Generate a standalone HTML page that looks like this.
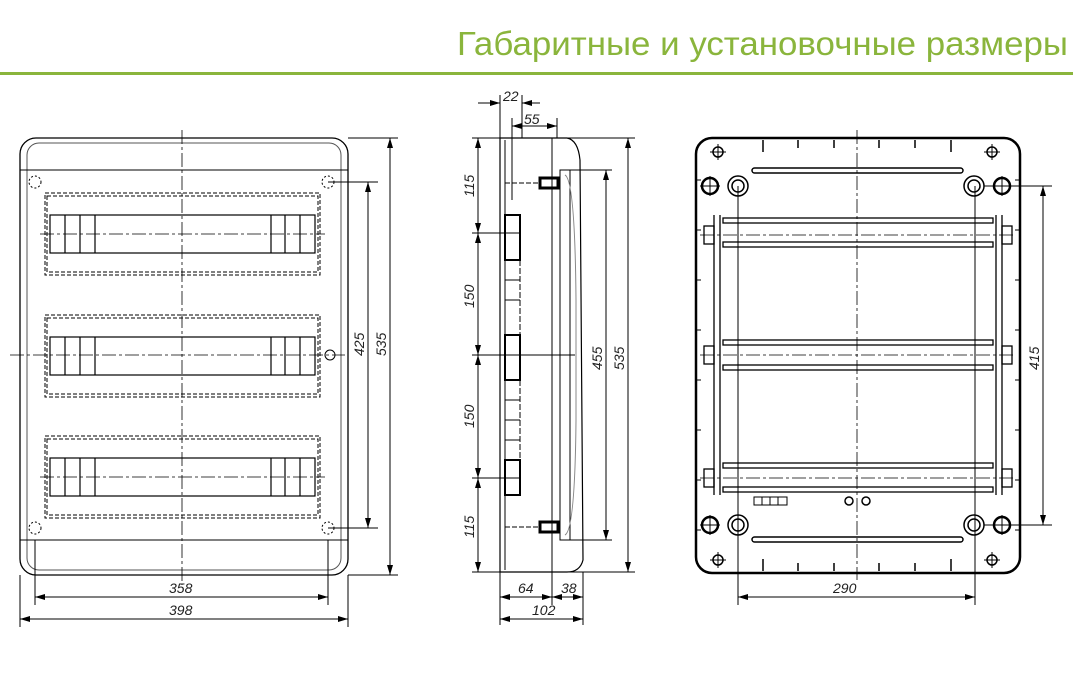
<!DOCTYPE html>
<html><head><meta charset="utf-8"><style>
html,body{margin:0;padding:0;background:#fff;width:1073px;height:674px;overflow:hidden}
svg{display:block}
text{font-family:"Liberation Sans",sans-serif;font-style:italic;font-size:14px;fill:#222}
</style></head><body>
<svg width="1073" height="674" viewBox="0 0 1073 674" xmlns="http://www.w3.org/2000/svg">
<defs>
<marker id="a" viewBox="0 0 10 6" refX="10" refY="3" markerWidth="10" markerHeight="6" orient="auto-start-reverse" markerUnits="userSpaceOnUse"><path d="M0,0 L10,3 L0,6 Z" fill="#000"/></marker>
</defs>
<text x="457" y="55" textLength="611" lengthAdjust="spacingAndGlyphs" style="font-style:normal;font-size:33px;fill:#8ab53c">Габаритные и установочные размеры</text>
<rect x="0" y="72" width="1073" height="3" fill="#8ab53c"/>

<g fill="none" stroke="#000" stroke-width="1">
<!-- FRONT -->
<rect x="20" y="138" width="328" height="437" rx="16" stroke-width="1.3"/>
<rect x="27" y="143" width="314" height="427" rx="12" stroke="#555"/>
<line x1="20" y1="170" x2="348" y2="170"/>
<line x1="20" y1="540" x2="348" y2="540"/>
<g stroke-dasharray="4,2">
<rect x="45" y="193" width="275" height="82"/><rect x="47" y="196" width="271" height="76"/>
<rect x="45" y="315" width="275" height="82"/><rect x="47" y="318" width="271" height="76"/>
<rect x="45" y="436" width="275" height="82"/><rect x="47" y="439" width="271" height="76"/>
</g>
<g stroke-width="1.2">
<rect x="50" y="215" width="265" height="38"/><rect x="50" y="337" width="265" height="38"/><rect x="50" y="458" width="265" height="38"/>
<path d="M65,215v38M80,215v38M95,215v38M285,215v38M300,215v38M271,215v38"/>
<path d="M65,337v38M80,337v38M95,337v38M285,337v38M300,337v38M271,337v38"/>
<path d="M65,458v38M80,458v38M95,458v38M285,458v38M300,458v38M271,458v38"/>
</g>
<g stroke-dasharray="14,3,3,3" stroke-width="0.8">
<line x1="182" y1="130" x2="182" y2="585"/>
<line x1="10" y1="355" x2="345" y2="355"/>
<line x1="40" y1="234" x2="325" y2="234"/>
<line x1="40" y1="477" x2="325" y2="477"/>
</g>
<g stroke-dasharray="2,2"><circle cx="35" cy="182" r="6"/><circle cx="328" cy="182" r="6"/><circle cx="35" cy="528" r="6"/><circle cx="328" cy="528" r="6"/></g>
<circle cx="330" cy="355" r="5"/>
<path d="M348,138H398M328,182H378M328,528H378M348,575H398"/>
<line x1="368" y1="182" x2="368" y2="528" marker-start="url(#a)" marker-end="url(#a)"/>
<line x1="390" y1="138" x2="390" y2="575" marker-start="url(#a)" marker-end="url(#a)"/>
<path d="M35,540V605M328,540V605M20,575V627M348,575V627"/>
<line x1="35" y1="597" x2="328" y2="597" marker-start="url(#a)" marker-end="url(#a)"/>
<line x1="20" y1="619" x2="348" y2="619" marker-start="url(#a)" marker-end="url(#a)"/>

<!-- SIDE -->
<path d="M500,138H567Q578,140 580,160L583,560Q580,572 567,572H500Z" stroke-width="1.2"/>
<line x1="505" y1="140" x2="505" y2="570"/>
<line x1="552" y1="138" x2="552" y2="572"/>
<path d="M560,170H570V540H560Z"/>
<path d="M565,175Q575,180 576,300L576,420Q575,530 565,535" stroke="#888"/>
<g stroke-width="2"><rect x="505" y="215" width="15" height="45"/><rect x="505" y="335" width="15" height="45"/><rect x="505" y="460" width="15" height="35"/></g>
<path d="M505,260V335M520,260V335M505,380V460M520,380V460" stroke-dasharray="6,2"/>
<path d="M505,280H520M505,300H520M505,400H520M505,420H520M505,440H520"/>
<rect x="540" y="178" width="18" height="10" stroke-width="3"/>
<rect x="540" y="522" width="18" height="10" stroke-width="3"/>
<path d="M505,183H540M505,527H540" stroke-dasharray="5,2"/>
<path d="M472,138H500M472,233H520M472,355H575M472,478H520M472,572H500"/>
<line x1="478" y1="138" x2="478" y2="233" marker-start="url(#a)" marker-end="url(#a)"/>
<line x1="478" y1="233" x2="478" y2="355" marker-start="url(#a)" marker-end="url(#a)"/>
<line x1="478" y1="355" x2="478" y2="478" marker-start="url(#a)" marker-end="url(#a)"/>
<line x1="478" y1="478" x2="478" y2="572" marker-start="url(#a)" marker-end="url(#a)"/>
<path d="M567,138H635M570,170H612M570,540H612M567,572H635"/>
<line x1="606" y1="170" x2="606" y2="540" marker-start="url(#a)" marker-end="url(#a)"/>
<line x1="628" y1="138" x2="628" y2="572" marker-start="url(#a)" marker-end="url(#a)"/>
<path d="M500,95V138M512,118V200M522,95V138M557,118V138"/>
<line x1="478" y1="103" x2="500" y2="103" marker-end="url(#a)"/>
<line x1="522" y1="103" x2="540" y2="103" marker-start="url(#a)"/>
<line x1="512" y1="126" x2="557" y2="126" marker-start="url(#a)" marker-end="url(#a)"/>
<path d="M500,572V625M552,572V605M583,572V625"/>
<line x1="500" y1="597" x2="552" y2="597" marker-start="url(#a)" marker-end="url(#a)"/>
<line x1="552" y1="597" x2="583" y2="597" marker-start="url(#a)" marker-end="url(#a)"/>
<line x1="500" y1="619" x2="583" y2="619" marker-start="url(#a)" marker-end="url(#a)"/>

<!-- BACK -->
<rect x="696" y="138" width="324" height="435" rx="16" stroke-width="2.5"/>
<rect x="752" y="168" width="211" height="5" rx="2.5" stroke-width="1.5"/>
<rect x="752" y="537" width="211" height="5" rx="2.5" stroke-width="1.5"/>
<path d="M763,140v12M798,140v8M834,140v8M879,140v8M915,140v8M951,140v12M763,571v-12M798,571v-8M834,571v-8M879,571v-8M915,571v-8M951,571v-12" stroke-width="1.5"/>
<path d="M696,180h5M696,230h5M696,280h5M696,330h5M696,380h5M696,430h5M696,480h5M696,530h5M1020,180h-5M1020,230h-5M1020,280h-5M1020,330h-5M1020,380h-5M1020,430h-5M1020,480h-5M1020,530h-5"/>
<g stroke-width="1.3">
<rect x="723" y="218" width="270" height="5"/><rect x="723" y="242" width="270" height="5"/>
<rect x="723" y="340" width="270" height="5"/><rect x="723" y="365" width="270" height="5"/>
<rect x="723" y="463" width="270" height="5"/><rect x="723" y="487" width="270" height="5"/>
<path d="M714,215V495M720,215V495M996,215V495M1002,215V495"/>
<rect x="704" y="226" width="10" height="18"/><rect x="1002" y="226" width="10" height="18"/>
<rect x="704" y="346" width="10" height="18"/><rect x="1002" y="346" width="10" height="18"/>
<rect x="704" y="469" width="10" height="18"/><rect x="1002" y="469" width="10" height="18"/>
</g>
<g stroke-dasharray="14,3,3,3" stroke-width="0.8">
<line x1="857" y1="130" x2="857" y2="580"/>
<line x1="700" y1="235" x2="1015" y2="235"/>
<line x1="700" y1="355" x2="1015" y2="355"/>
<line x1="700" y1="478" x2="1015" y2="478"/>
</g>
<g stroke-width="1.5">
<circle cx="738" cy="186" r="10"/><circle cx="738" cy="186" r="6"/>
<circle cx="974" cy="186" r="10"/><circle cx="974" cy="186" r="6"/>
<circle cx="738" cy="525" r="10"/><circle cx="738" cy="525" r="6"/>
<circle cx="974" cy="525" r="10"/><circle cx="974" cy="525" r="6"/>
<circle cx="710" cy="186" r="8" stroke-width="2.5"/><circle cx="1002" cy="186" r="8" stroke-width="2.5"/>
<circle cx="710" cy="525" r="8" stroke-width="2.5"/><circle cx="1002" cy="525" r="8" stroke-width="2.5"/>
<circle cx="718" cy="152" r="5"/><circle cx="992" cy="152" r="5"/>
<circle cx="718" cy="560" r="5"/><circle cx="992" cy="560" r="5"/>
<circle cx="849" cy="501" r="4"/><circle cx="866" cy="501" r="4"/>
</g>
<path d="M700,186h20M710,176v20M992,186h20M1002,176v20M700,525h20M710,515v20M992,525h20M1002,515v20M710,152h16M718,144v16M984,152h16M992,144v16M710,560h16M718,552v16M984,560h16M992,552v16"/>
<rect x="754" y="497" width="33" height="8"/>
<path d="M762,497v8M770,497v8M778,497v8"/>
<path d="M984,186H1052M984,525H1052"/>
<line x1="1043" y1="186" x2="1043" y2="525" marker-start="url(#a)" marker-end="url(#a)"/>
<path d="M738,186V605M975,186V605"/>
<line x1="738" y1="597" x2="975" y2="597" marker-start="url(#a)" marker-end="url(#a)"/>
</g>

<text x="169" y="593">358</text>
<text x="169" y="615">398</text>
<text x="0" y="0" transform="translate(364,356) rotate(-90)">425</text>
<text x="0" y="0" transform="translate(386,356) rotate(-90)">535</text>
<text x="503" y="101">22</text>
<text x="524" y="124">55</text>
<text x="0" y="0" transform="translate(474,197) rotate(-90)">115</text>
<text x="0" y="0" transform="translate(474,308) rotate(-90)">150</text>
<text x="0" y="0" transform="translate(474,428) rotate(-90)">150</text>
<text x="0" y="0" transform="translate(474,538) rotate(-90)">115</text>
<text x="0" y="0" transform="translate(602,370) rotate(-90)">455</text>
<text x="0" y="0" transform="translate(624,370) rotate(-90)">535</text>
<text x="518" y="593">64</text>
<text x="561" y="593">38</text>
<text x="532" y="615">102</text>
<text x="0" y="0" transform="translate(1039,370) rotate(-90)">415</text>
<text x="833" y="593">290</text>
</svg>
</body></html>
